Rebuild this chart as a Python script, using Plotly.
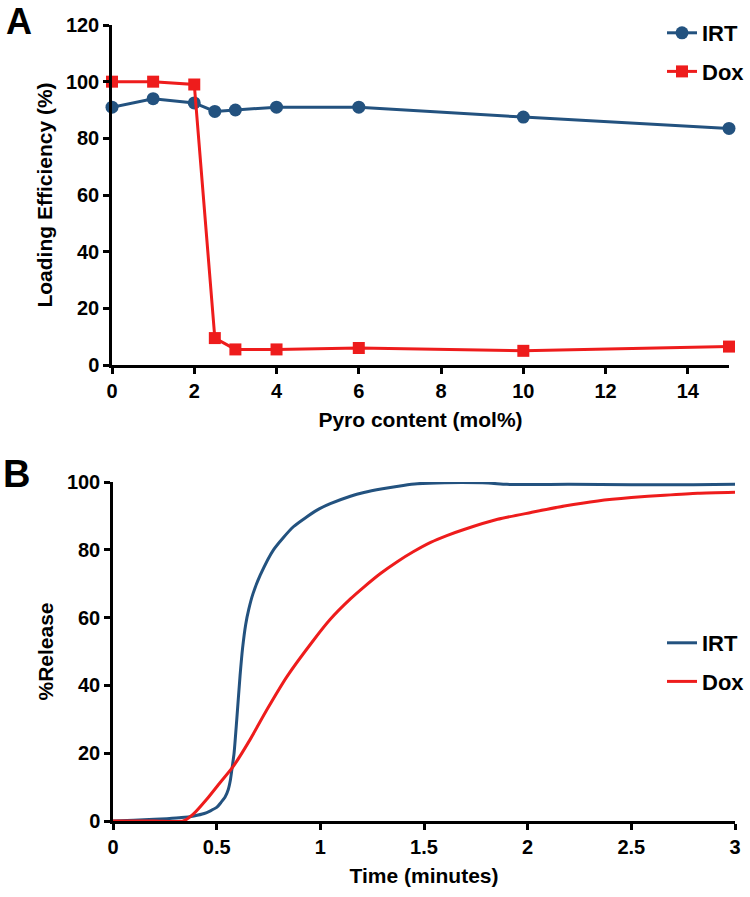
import plotly.graph_objects as go

# Panel A: loading efficiency vs pyro content
pyro_mol = [0, 1, 2, 2.5, 3, 4, 6, 10, 15]
irt_loading = [91, 94, 92.5, 89.5, 90, 91, 91, 87.5, 83.5]
dox_loading = [100, 100, 99, 9.5, 5.5, 5.5, 6, 5, 6.5]

# Panel B: release curves
irt_time = [0, 0.1, 0.2, 0.26, 0.33, 0.39, 0.44, 0.47, 0.50, 0.52, 0.54, 0.556, 0.566,
            0.573, 0.584, 0.597, 0.613, 0.625, 0.64, 0.655, 0.675, 0.71, 0.774, 0.87,
            0.984, 1.048, 1.145, 1.21, 1.3, 1.4, 1.468, 1.6, 1.81, 1.9, 2.2, 2.5, 2.8, 3.0]
irt_release = [0, 0.2, 0.5, 0.7, 1.0, 1.5, 2.2, 3.0, 4.0, 5.4, 7.0, 9.3, 12,
               15, 20, 30, 43, 51, 58, 62.5, 67, 72.5, 80, 86.8,
               91.7, 93.6, 95.8, 96.9, 98.0, 99.0, 99.5, 99.8, 99.7, 99.3, 99.3, 99.2, 99.2, 99.3]
dox_time = [0, 0.2, 0.339, 0.387, 0.452, 0.516, 0.581, 0.661, 0.742, 0.839, 0.968, 1.048,
            1.145, 1.21, 1.29, 1.371, 1.45, 1.532, 1.61, 1.693, 1.855, 2.016, 2.177, 2.338,
            2.5, 2.66, 2.82, 3.0]
dox_release = [0, 0, 0, 2, 6.4, 11.3, 16.2, 24, 32.8, 42.6, 53.4, 59.5,
               65.5, 69.0, 73.0, 76.5, 79.5, 82.2, 84.2, 86.0, 89, 91, 92.9, 94.4,
               95.4, 96.1, 96.7, 97]

a_xticks = [0, 2, 4, 6, 8, 10, 12, 14]
a_yticks = [0, 20, 40, 60, 80, 100, 120]
b_xticks = [0, 0.5, 1, 1.5, 2, 2.5, 3]
b_xlabels = ["0", "0.5", "1", "1.5", "2", "2.5", "3"]
b_yticks = [0, 20, 40, 60, 80, 100]

BLUE = "#23527F"
RED = "#EE1C1C"
W, H = 750, 897
FONT = "Liberation Sans, Arial, sans-serif"


# page pixels -> paper fractions
def px_x(p):
    return p / W


def px_y(p):
    return 1 - p / H


fig = go.Figure()

fig.add_trace(go.Scatter(
    x=pyro_mol, y=irt_loading, mode="lines+markers", name="IRT",
    line=dict(color=BLUE, width=3), marker=dict(symbol="circle", size=13, color=BLUE),
    cliponaxis=False, legend="legend", legendgroup="a1"))
fig.add_trace(go.Scatter(
    x=pyro_mol, y=dox_loading, mode="lines+markers", name="Dox",
    line=dict(color=RED, width=3), marker=dict(symbol="square", size=12, color=RED),
    cliponaxis=False, legend="legend", legendgroup="a2"))

fig.add_trace(go.Scatter(
    x=irt_time, y=irt_release, mode="lines", name="IRT", xaxis="x2", yaxis="y2",
    line=dict(color=BLUE, width=3, shape="spline", smoothing=0.6),
    cliponaxis=False, legend="legend2", legendgroup="b1"))
fig.add_trace(go.Scatter(
    x=dox_time, y=dox_release, mode="lines", name="Dox", xaxis="x2", yaxis="y2",
    line=dict(color=RED, width=3, shape="spline", smoothing=0.6),
    cliponaxis=False, legend="legend2", legendgroup="b2"))

axis_style = dict(
    showgrid=False, zeroline=False, showline=True, linecolor="black", linewidth=2.5,
    ticks="outside", ticklen=6, tickwidth=2.5, tickcolor="black", automargin=False,
    tickfont=dict(family=FONT, size=20, color="black", weight="bold"),
)
title_font = dict(family=FONT, size=21, color="black", weight="bold")
legend_font = dict(family=FONT, size=22, color="black", weight="bold")

fig.update_layout(
    width=W, height=H,
    margin=dict(l=0, r=0, t=0, b=0),
    plot_bgcolor="white", paper_bgcolor="white",
    xaxis=dict(axis_style, domain=[px_x(112), px_x(729)], range=[0, 15],
               tickvals=a_xticks, anchor="y",
               title=dict(text="Pyro content (mol%)", font=title_font, standoff=12)),
    yaxis=dict(axis_style, domain=[px_y(365), px_y(25)], range=[0, 120],
               tickvals=a_yticks, anchor="x",
               title=dict(text="Loading Efficiency (%)", font=title_font, standoff=8)),
    xaxis2=dict(axis_style, domain=[px_x(113), px_x(735)], range=[0, 3],
                tickvals=b_xticks, ticktext=b_xlabels, anchor="y2",
                title=dict(text="Time (minutes)", font=title_font, standoff=12)),
    yaxis2=dict(axis_style, domain=[px_y(821), px_y(482)], range=[0, 100],
                tickvals=b_yticks, anchor="x2",
                title=dict(text="%Release", font=title_font, standoff=8)),
    legend=dict(x=px_x(662), y=px_y(12), xanchor="left", yanchor="top",
                bgcolor="rgba(0,0,0,0)", tracegroupgap=7, traceorder="grouped",
                font=legend_font),
    legend2=dict(x=px_x(662), y=px_y(622), xanchor="left", yanchor="top",
                 bgcolor="rgba(0,0,0,0)", tracegroupgap=7, traceorder="grouped",
                 font=legend_font),
    annotations=[
        dict(text="A", x=px_x(19), y=px_y(22), xref="paper", yref="paper",
             xanchor="center", yanchor="middle", showarrow=False,
             font=dict(family=FONT, size=36, color="black", weight="bold")),
        dict(text="B", x=px_x(16), y=px_y(474), xref="paper", yref="paper",
             xanchor="center", yanchor="middle", showarrow=False,
             font=dict(family=FONT, size=38, color="black", weight="bold")),
    ],
)

# drop the page's default body margin so the figure fills the window exactly
fig.write_html("out.html", config={"displayModeBar": False},
               post_script="document.body.style.margin = '0';")
